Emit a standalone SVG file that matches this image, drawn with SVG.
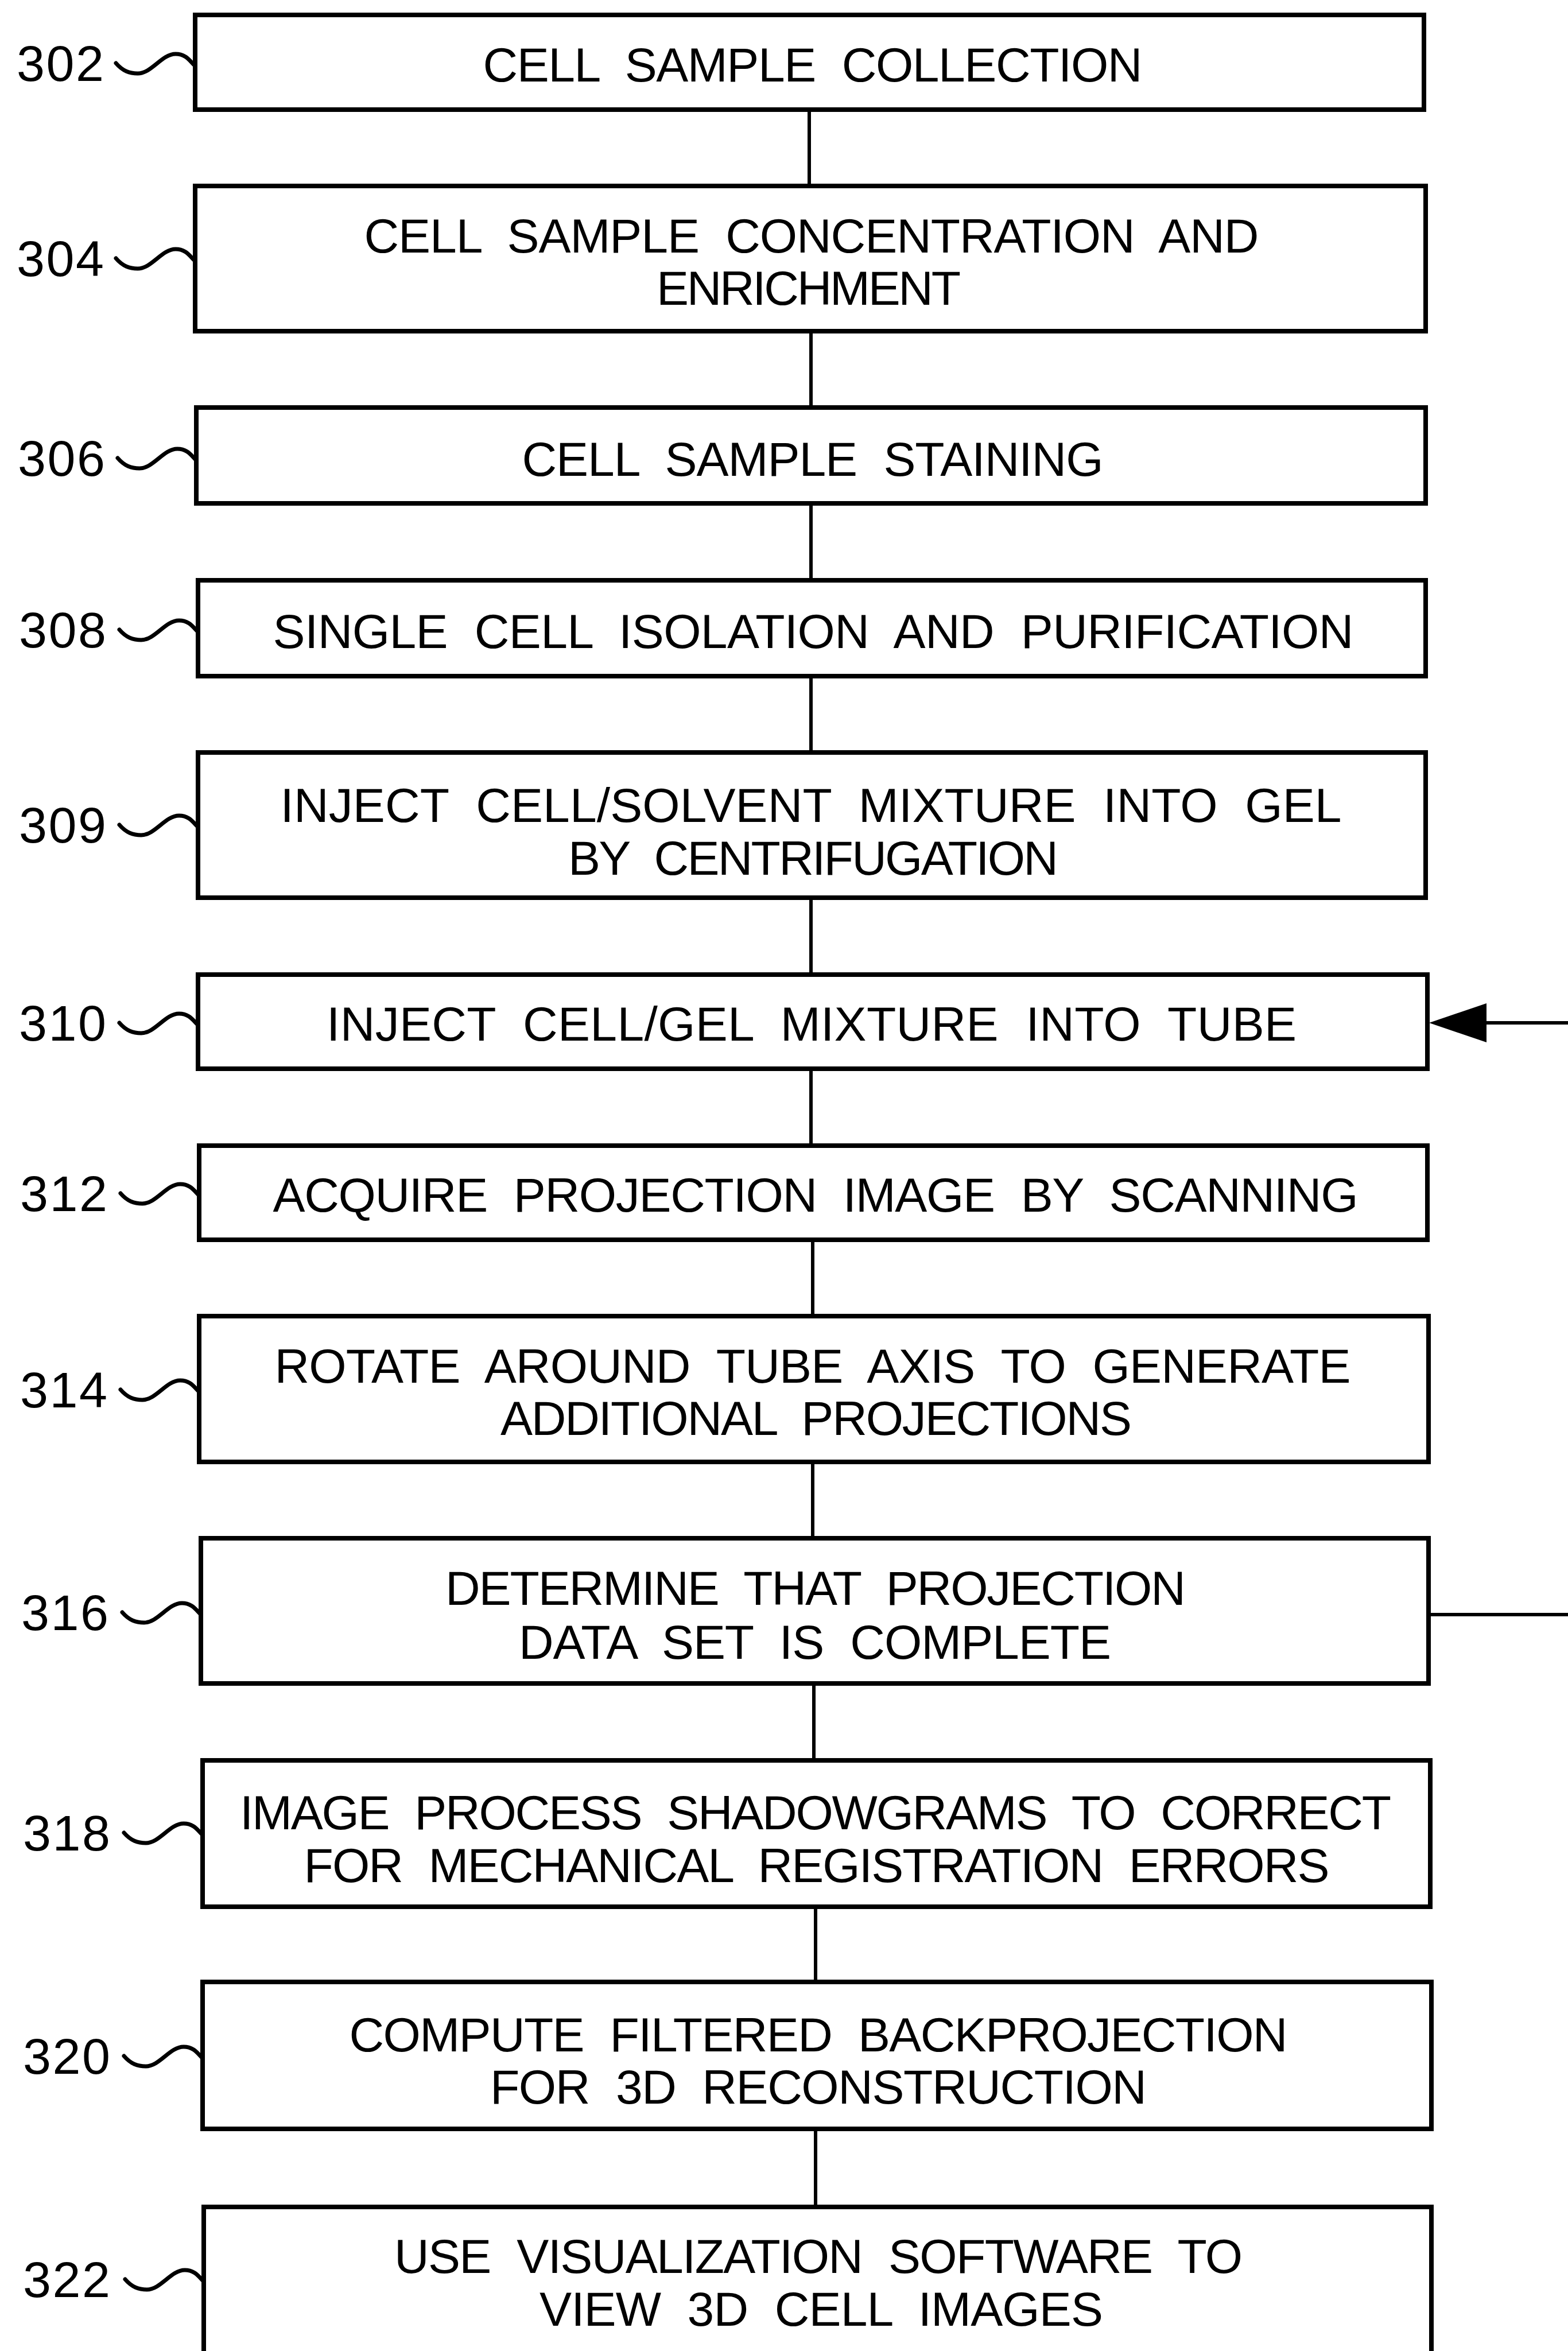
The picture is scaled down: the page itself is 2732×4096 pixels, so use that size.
<svg xmlns="http://www.w3.org/2000/svg" width="2732" height="4096" viewBox="0 0 2732 4096">
<style>
.box{fill:#fff;stroke:#000;stroke-width:8}
.t{font-family:"Liberation Sans",Arial,sans-serif;font-size:84px;fill:#000;text-anchor:middle;word-spacing:24px}
.lb{font-family:"Liberation Sans",Arial,sans-serif;font-size:88px;fill:#000}
.sq{fill:none;stroke:#000;stroke-width:7;stroke-linecap:round}
.c{fill:none;stroke:#000;stroke-width:6}
</style>
<defs>
<path id="squig" class="sq" d="M0,0 C12,14 24,18 38,18 C62,18 80,-16 104,-16 C121,-16 128,-5 136,3"/>
</defs>
<g id="connectors">
<line class="c" x1="1410" y1="190" x2="1410" y2="324"/>
<line class="c" x1="1413" y1="577" x2="1413" y2="710"/>
<line class="c" x1="1413" y1="877" x2="1413" y2="1011"/>
<line class="c" x1="1413" y1="1178" x2="1413" y2="1311"/>
<line class="c" x1="1413" y1="1564" x2="1413" y2="1698"/>
<line class="c" x1="1413" y1="1862" x2="1413" y2="1996"/>
<line class="c" x1="1416" y1="2160" x2="1416" y2="2293"/>
<line class="c" x1="1416" y1="2547" x2="1416" y2="2680"/>
<line class="c" x1="1418" y1="2933" x2="1418" y2="3067"/>
<line class="c" x1="1421" y1="3322" x2="1421" y2="3453"/>
<line class="c" x1="1421" y1="3709" x2="1421" y2="3845"/>
<line class="c" x1="2489" y1="2813" x2="2732" y2="2813"/>
<line class="c" x1="2580" y1="1782" x2="2732" y2="1782"/>
<polygon points="2490,1782 2590,1748 2590,1816" fill="#000"/>
</g>
<g id="n302">
<rect class="box" x="340" y="26" width="2141" height="165"/>
<text class="t" x="1416" y="142" textLength="1149" lengthAdjust="spacing">CELL SAMPLE COLLECTION</text>
<text class="lb" x="29" y="141" textLength="152" lengthAdjust="spacing">302</text>
<use href="#squig" x="202" y="110"/>
</g>
<g id="n304">
<rect class="box" x="340" y="324" width="2144" height="253"/>
<text class="t" x="1414" y="440" textLength="1559" lengthAdjust="spacing">CELL SAMPLE CONCENTRATION AND</text>
<text class="t" x="1409" y="531" textLength="530" lengthAdjust="spacing">ENRICHMENT</text>
<text class="lb" x="29" y="481" textLength="152" lengthAdjust="spacing">304</text>
<use href="#squig" x="202" y="450"/>
</g>
<g id="n306">
<rect class="box" x="342" y="710" width="2142" height="167"/>
<text class="t" x="1416" y="829" textLength="1013" lengthAdjust="spacing">CELL SAMPLE STAINING</text>
<text class="lb" x="31" y="829" textLength="152" lengthAdjust="spacing">306</text>
<use href="#squig" x="205" y="798"/>
</g>
<g id="n308">
<rect class="box" x="345" y="1011" width="2139" height="167"/>
<text class="t" x="1417" y="1129" textLength="1883" lengthAdjust="spacing">SINGLE CELL ISOLATION AND PURIFICATION</text>
<text class="lb" x="33" y="1128" textLength="152" lengthAdjust="spacing">308</text>
<use href="#squig" x="208" y="1097"/>
</g>
<g id="n309">
<rect class="box" x="345" y="1311" width="2139" height="253"/>
<text class="t" x="1413" y="1432" textLength="1849" lengthAdjust="spacing">INJECT CELL/SOLVENT MIXTURE INTO GEL</text>
<text class="t" x="1417" y="1524" textLength="854" lengthAdjust="spacing">BY CENTRIFUGATION</text>
<text class="lb" x="33" y="1468" textLength="152" lengthAdjust="spacing">309</text>
<use href="#squig" x="208" y="1437"/>
</g>
<g id="n310">
<rect class="box" x="345" y="1698" width="2142" height="164"/>
<text class="t" x="1414" y="1813" textLength="1690" lengthAdjust="spacing">INJECT CELL/GEL MIXTURE INTO TUBE</text>
<text class="lb" x="33" y="1813" textLength="152" lengthAdjust="spacing">310</text>
<use href="#squig" x="208" y="1782"/>
</g>
<g id="n312">
<rect class="box" x="347" y="1996" width="2140" height="164"/>
<text class="t" x="1421" y="2111" textLength="1891" lengthAdjust="spacing">ACQUIRE PROJECTION IMAGE BY SCANNING</text>
<text class="lb" x="35" y="2110" textLength="152" lengthAdjust="spacing">312</text>
<use href="#squig" x="210" y="2079"/>
</g>
<g id="n314">
<rect class="box" x="347" y="2293" width="2142" height="254"/>
<text class="t" x="1416" y="2409" textLength="1875" lengthAdjust="spacing">ROTATE AROUND TUBE AXIS TO GENERATE</text>
<text class="t" x="1422" y="2500" textLength="1100" lengthAdjust="spacing">ADDITIONAL PROJECTIONS</text>
<text class="lb" x="35" y="2452" textLength="152" lengthAdjust="spacing">314</text>
<use href="#squig" x="210" y="2421"/>
</g>
<g id="n316">
<rect class="box" x="350" y="2680" width="2139" height="253"/>
<text class="t" x="1421" y="2796" textLength="1290" lengthAdjust="spacing">DETERMINE THAT PROJECTION</text>
<text class="t" x="1420" y="2890" textLength="1032" lengthAdjust="spacing">DATA SET IS COMPLETE</text>
<text class="lb" x="37" y="2840" textLength="152" lengthAdjust="spacing">316</text>
<use href="#squig" x="213" y="2809"/>
</g>
<g id="n318">
<rect class="box" x="353" y="3067" width="2139" height="255"/>
<text class="t" x="1421" y="3187" textLength="2006" lengthAdjust="spacing">IMAGE PROCESS SHADOWGRAMS TO CORRECT</text>
<text class="t" x="1423" y="3279" textLength="1787" lengthAdjust="spacing">FOR MECHANICAL REGISTRATION ERRORS</text>
<text class="lb" x="40" y="3224" textLength="152" lengthAdjust="spacing">318</text>
<use href="#squig" x="216" y="3193"/>
</g>
<g id="n320">
<rect class="box" x="353" y="3453" width="2141" height="256"/>
<text class="t" x="1426" y="3574" textLength="1635" lengthAdjust="spacing">COMPUTE FILTERED BACKPROJECTION</text>
<text class="t" x="1426" y="3665" textLength="1144" lengthAdjust="spacing">FOR 3D RECONSTRUCTION</text>
<text class="lb" x="40" y="3613" textLength="152" lengthAdjust="spacing">320</text>
<use href="#squig" x="216" y="3582"/>
</g>
<g id="n322">
<rect class="box" x="355" y="3845" width="2139" height="270"/>
<text class="t" x="1426" y="3960" textLength="1478" lengthAdjust="spacing">USE VISUALIZATION SOFTWARE TO</text>
<text class="t" x="1431" y="4052" textLength="982" lengthAdjust="spacing">VIEW 3D CELL IMAGES</text>
<text class="lb" x="40" y="4002" textLength="152" lengthAdjust="spacing">322</text>
<use href="#squig" x="218" y="3971"/>
</g>
</svg>
